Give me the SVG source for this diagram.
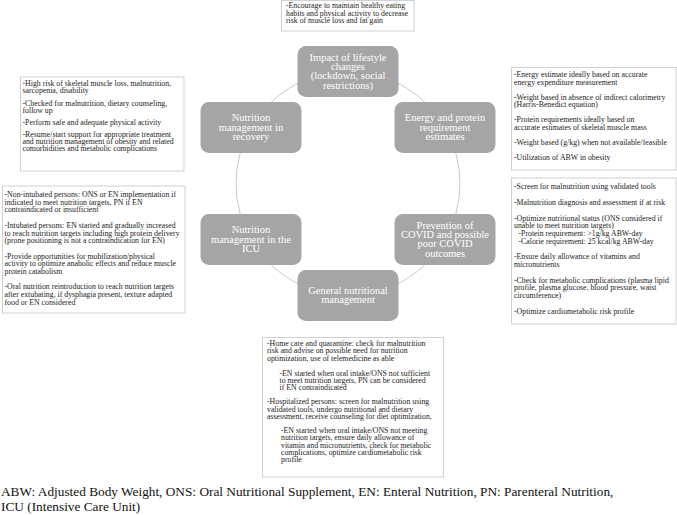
<svg xmlns="http://www.w3.org/2000/svg" width="677" height="515" viewBox="0 0 677 515">
<style>
.node rect{fill:#a5a5a5;}
.nl{font-family:"Liberation Serif","Times New Roman",serif;font-size:10.5px;fill:#ffffff;text-anchor:middle;}
.box rect{fill:#ffffff;stroke:#d0d0d0;stroke-width:1;}
.bt{font-family:"Liberation Serif","Times New Roman",serif;font-size:7.8px;fill:#1a1a1a;}
.arc{fill:none;stroke:#c8c8c8;stroke-width:1;}
.foot{font-family:"Liberation Serif","Times New Roman",serif;font-size:13.3px;fill:#111;}
</style>
<rect x="0" y="0" width="677" height="515" fill="#ffffff"/>

<g id="connectors">
<path class="arc" d="M348 71.5 A112 112 0 0 1 445 127.5"/>
<path class="arc" d="M445 127.5 A112 112 0 0 1 445 239.5"/>
<path class="arc" d="M445 239.5 A112 112 0 0 1 348 295.5"/>
<path class="arc" d="M348 295.5 A112 112 0 0 1 251 239.5"/>
<path class="arc" d="M251 239.5 A112 112 0 0 1 251 127.5"/>
<path class="arc" d="M251 127.5 A112 112 0 0 1 348 71.5"/>
</g>

<g id="node-lifestyle" class="node">
<rect x="297.5" y="46" width="101" height="51" rx="8.5"/>
<text class="nl"><tspan x="348" y="60.5">Impact of lifestyle</tspan><tspan x="348" y="69.9">changes</tspan><tspan x="348" y="79.3">(lockdown, social</tspan><tspan x="348" y="88.7">restrictions)</tspan></text>
</g>
<g id="node-energy" class="node">
<rect x="394.5" y="102" width="101" height="51" rx="8.5"/>
<text class="nl"><tspan x="445" y="121.1">Energy and protein</tspan><tspan x="445" y="130.5">requirement</tspan><tspan x="445" y="139.9">estimates</tspan></text>
</g>
<g id="node-prevention" class="node">
<rect x="394.5" y="214" width="101" height="51" rx="8.5"/>
<text class="nl"><tspan x="445" y="228.5">Prevention of</tspan><tspan x="445" y="237.9">COVID and possible</tspan><tspan x="445" y="247.3">poor COVID</tspan><tspan x="445" y="256.7">outcomes</tspan></text>
</g>
<g id="node-general" class="node">
<rect x="297.5" y="270" width="101" height="51" rx="8.5"/>
<text class="nl"><tspan x="348" y="293.8">General nutritional</tspan><tspan x="348" y="303.2">management</tspan></text>
</g>
<g id="node-icu" class="node">
<rect x="200.5" y="214" width="101" height="51" rx="8.5"/>
<text class="nl"><tspan x="251" y="233.1">Nutrition</tspan><tspan x="251" y="242.5">management in the</tspan><tspan x="251" y="251.9">ICU</tspan></text>
</g>
<g id="node-recovery" class="node">
<rect x="200.5" y="102" width="101" height="51" rx="8.5"/>
<text class="nl"><tspan x="251" y="121.1">Nutrition</tspan><tspan x="251" y="130.5">management in</tspan><tspan x="251" y="139.9">recovery</tspan></text>
</g>

<g id="box-lifestyle" class="box">
<rect x="281.5" y="0.5" width="132.5" height="30.5"/>
<text class="bt"><tspan x="286" y="8.2">-Encourage to maintain healthy eating</tspan><tspan x="286" y="15.8">habits and physical activity to decrease</tspan><tspan x="286" y="23.4">risk of muscle loss and fat gain</tspan></text>
</g>

<g id="box-recovery" class="box">
<rect x="20.5" y="77" width="163.5" height="94"/>
<text class="bt"><tspan x="22.5" y="86.2">-High risk of skeletal muscle loss, malnutrition,</tspan><tspan x="22.5" y="93.4">sarcopenia, disability</tspan><tspan x="22.5" y="105.6">-Checked for malnutrition, dietary counseling,</tspan><tspan x="22.5" y="112.8">follow up</tspan><tspan x="22.5" y="124.6">-Perform safe and adequate physical activity</tspan><tspan x="22.5" y="136.6">-Resume/start support for appropriate treatment</tspan><tspan x="22.5" y="143.8">and nutrition management of obesity and related</tspan><tspan x="22.5" y="151">comorbidities and metabolic complications</tspan></text>
</g>

<g id="box-icu" class="box">
<rect x="2.5" y="186" width="182.5" height="127"/>
<text class="bt"><tspan x="4.5" y="197.2">-Non-intubated persons: ONS or EN implementation if</tspan><tspan x="4.5" y="204.8">indicated to meet nutrition targets, PN if EN</tspan><tspan x="4.5" y="212.4">contraindicated or insufficient</tspan><tspan x="4.5" y="227.9">-Intubated persons: EN started and gradually increased</tspan><tspan x="4.5" y="235.5">to reach nutrition targets including high protein delivery</tspan><tspan x="4.5" y="243.1">(prone positioning is not a contraindication for EN)</tspan><tspan x="4.5" y="258.6">-Provide opportunities for mobilization/physical</tspan><tspan x="4.5" y="266.2">activity to optimize anabolic effects and reduce muscle</tspan><tspan x="4.5" y="273.8">protein catabolism</tspan><tspan x="4.5" y="289.3">-Oral nutrition reintroduction to reach nutrition targets</tspan><tspan x="4.5" y="296.9">after extubating, if dysphagia present, texture adapted</tspan><tspan x="4.5" y="304.5">food or EN considered</tspan></text>
</g>

<g id="box-energy" class="box">
<rect x="511.5" y="67.5" width="164.5" height="102.5"/>
<text class="bt"><tspan x="514" y="77.2">-Energy estimate ideally based on accurate</tspan><tspan x="514" y="84.8">energy expenditure measurement</tspan><tspan x="514" y="99.8">-Weight based in absence of indirect calorimetry</tspan><tspan x="514" y="107.4">(Harris-Benedict equation)</tspan><tspan x="514" y="122.4">-Protein requirements ideally based on</tspan><tspan x="514" y="130">accurate estimates of skeletal muscle mass</tspan><tspan x="514" y="145">-Weight based (g/kg) when not available/feasible</tspan><tspan x="514" y="160">-Utilization of ABW in obesity</tspan></text>
</g>

<g id="box-prevention" class="box">
<rect x="511.5" y="178" width="164.5" height="146"/>
<text class="bt"><tspan x="514" y="189.2">-Screen for malnutrition using validated tools</tspan><tspan x="514" y="205">-Malnutrition diagnosis and assessment if at risk</tspan><tspan x="514" y="220.8">-Optimize nutritional status (ONS considered if</tspan><tspan x="514" y="228.4">unable to meet nutrition targets)</tspan><tspan x="518.5" y="236">-Protein requirement: &gt;1g/kg ABW-day</tspan><tspan x="518.5" y="243.6">-Calorie requirement: 25 kcal/kg ABW-day</tspan><tspan x="514" y="259.4">-Ensure daily allowance of vitamins and</tspan><tspan x="514" y="267">micronutrients</tspan><tspan x="514" y="282.8">-Check for metabolic complications (plasma lipid</tspan><tspan x="514" y="290.4">profile, plasma glucose, blood pressure, waist</tspan><tspan x="514" y="298">circumference)</tspan><tspan x="514" y="313.8">-Optimize cardiometabolic risk profile</tspan></text>
</g>

<g id="box-general" class="box">
<rect x="262.5" y="337.5" width="181" height="139.5"/>
<text class="bt"><tspan x="267" y="346.2">-Home care and quarantine: check for malnutrition</tspan><tspan x="267" y="353.4">risk and advise on possible need for nutrition</tspan><tspan x="267" y="360.6">optimization, use of telemedicine as able</tspan><tspan x="279.5" y="375.5">-EN started when oral intake/ONS not sufficient</tspan><tspan x="279.5" y="382.7">to meet nutrition targets, PN can be considered</tspan><tspan x="279.5" y="389.9">if EN contraindicated</tspan><tspan x="267" y="404.4">-Hospitalized persons: screen for malnutrition using</tspan><tspan x="267" y="411.6">validated tools, undergo nutritional and dietary</tspan><tspan x="267" y="418.8">assessment, receive counseling for diet optimization,</tspan><tspan x="281" y="433.2">-EN started when oral intake/ONS not meeting</tspan><tspan x="281" y="440.4">nutrition targets, ensure daily allowance of</tspan><tspan x="281" y="447.6">vitamin and micronutrients, check for metabolic</tspan><tspan x="281" y="454.8">complications, optimize cardiometabolic risk</tspan><tspan x="281" y="462">profile</tspan></text>
</g>

<g id="footnote">
<text class="foot"><tspan x="1" y="496">ABW: Adjusted Body Weight, ONS: Oral Nutritional Supplement, EN: Enteral Nutrition, PN: Parenteral Nutrition,</tspan><tspan x="1" y="511">ICU (Intensive Care Unit)</tspan></text>
</g>
</svg>
